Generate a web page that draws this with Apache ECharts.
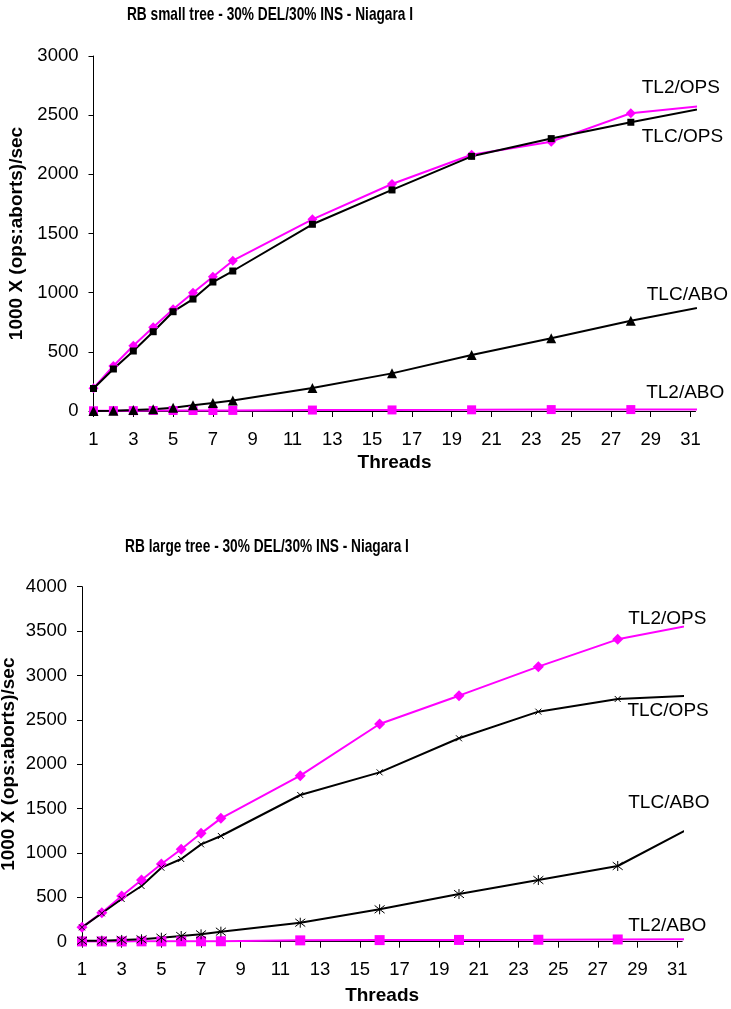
<!DOCTYPE html>
<html><head><meta charset="utf-8">
<script src="https://cdn.jsdelivr.net/npm/echarts@6/dist/echarts.min.js"></script>
<style>html,body{margin:0;padding:0;background:#fff}#c{width:731px;height:1009px}</style>
</head><body><div id="c"></div>
<script>
// ---- data ----
const threads = [1, 2, 3, 4, 5, 6, 7, 8, 12, 16, 20, 24, 28, 32];
const xTickLabels = [1, 3, 5, 7, 9, 11, 13, 15, 17, 19, 21, 23, 25, 27, 29, 31];
const smallTitle = 'RB small tree - 30% DEL/30% INS - Niagara I';
const largeTitle = 'RB large tree - 30% DEL/30% INS - Niagara I';
const yAxisName = '1000 X (ops:aborts)/sec';
const xAxisName = 'Threads';

const smallTL2Ops = [192, 380, 552, 707, 859, 1000, 1135, 1270, 1620, 1918, 2166, 2276, 2516, 2585];
const smallTL2Abo = [2, 3, 3, 4, 4, 4, 4, 5, 8, 9, 10, 12, 12, 14];
const smallTLCOps = [190, 355, 507, 670, 839, 946, 1090, 1183, 1578, 1868, 2152, 2302, 2440, 2570];
const smallTLCAbo = [0, 3, 8, 15, 28, 48, 68, 88, 195, 318, 473, 614, 763, 892];

const largeTL2Ops = [162, 327, 515, 695, 875, 1041, 1221, 1390, 1871, 2453, 2772, 3099, 3407, 3579];
const largeTL2Abo = [3, 3, 3, 4, 4, 4, 5, 5, 15, 18, 20, 22, 25, 27];
const largeTLCOps = [162, 320, 481, 628, 834, 932, 1097, 1191, 1653, 1908, 2292, 2592, 2735, 2775];
const largeTLCAbo = [11, 11, 20, 27, 45, 64, 83, 113, 214, 365, 537, 695, 853, 1322];

// label anchors in data units [x, y] (annotation placement)
const smallLabelAt = { 'TL2/OPS': [28.55, 2732], 'TLC/OPS': [28.55, 2318], 'TLC/ABO': [28.8, 980], 'TL2/ABO': [28.77, 158] };
const largeLabelAt = { 'TL2/OPS': [28.53, 3639], 'TLC/OPS': [28.49, 2603], 'TLC/ABO': [28.53, 1566], 'TL2/ABO': [28.53, 180] };

// ---- styling ----
const FONT = 'Liberation Sans, Arial, Helvetica, sans-serif';
const MAG = '#FF00FF', BLK = '#000000';
const X_MARK = 'path://M0,0L10,10M10,0L0,10';
const STAR_MARK = 'path://M0,0L10,10M10,0L0,10M5,-1.5L5,11.5';

function pairs(ys) { return threads.map((x, i) => [x, ys[i]]); }

function labelMark(name, at) {
  return {
    symbol: 'rect', symbolSize: 0, silent: true, animation: false,
    label: { show: true, position: 'right', distance: 0, formatter: name, color: BLK, fontSize: 19, fontFamily: FONT },
    data: [{ coord: at[name] }]
  };
}

function makeSeries(idx, vals, labelAt, big) {
  const [tl2ops, tl2abo, tlcops, tlcabo] = vals;
  const common = { type: 'line', xAxisIndex: idx, yAxisIndex: idx, clip: true, showSymbol: true, animation: false };
  return [
    Object.assign({}, common, {
      name: 'TL2/OPS', data: pairs(tl2ops), symbol: 'diamond', symbolSize: big ? 11 : 10,
      lineStyle: { color: MAG, width: 2 }, itemStyle: { color: MAG }, markPoint: labelMark('TL2/OPS', labelAt)
    }),
    Object.assign({}, common, {
      name: 'TL2/ABO', data: pairs(tl2abo), symbol: 'rect', symbolSize: big ? 10 : 9,
      lineStyle: { color: MAG, width: 2 }, itemStyle: { color: MAG }, markPoint: labelMark('TL2/ABO', labelAt)
    }),
    Object.assign({}, common, {
      name: 'TLC/OPS', data: pairs(tlcops),
      symbol: big ? X_MARK : 'rect', symbolSize: big ? 6 : 7,
      lineStyle: { color: BLK, width: 2 },
      itemStyle: big ? { color: 'rgba(0,0,0,0)', borderColor: BLK, borderWidth: 1 } : { color: BLK },
      markPoint: labelMark('TLC/OPS', labelAt)
    }),
    Object.assign({}, common, {
      name: 'TLC/ABO', data: pairs(tlcabo),
      symbol: big ? STAR_MARK : 'triangle', symbolSize: 10,
      lineStyle: { color: BLK, width: 2 },
      itemStyle: big ? { color: 'rgba(0,0,0,0)', borderColor: BLK, borderWidth: 1 } : { color: BLK },
      markPoint: labelMark('TLC/ABO', labelAt)
    })
  ];
}

function xAxis(idx, nameGap) {
  return {
    type: 'value', gridIndex: idx, min: 1, max: 31.25, interval: 2,
    name: xAxisName, nameLocation: 'middle', nameGap: nameGap, nameMoveOverlap: false,
    nameTextStyle: { color: BLK, fontSize: 19, fontWeight: 'bold', fontFamily: FONT },
    axisLine: { show: true, onZero: false, lineStyle: { color: BLK, width: 1 } },
    axisTick: { show: true, length: 6, customValues: xTickLabels, lineStyle: { color: BLK, width: 1 } },
    axisLabel: { color: BLK, fontSize: 18.5, fontFamily: FONT, margin: 19, customValues: xTickLabels,
      formatter: v => String(v) },
    splitLine: { show: false }
  };
}
function yAxis(idx, max, nameGap) {
  return {
    type: 'value', gridIndex: idx, min: 0, max: max, interval: 500,
    name: yAxisName, nameLocation: 'middle', nameGap: nameGap, nameRotate: 90, nameMoveOverlap: false,
    nameTextStyle: { color: BLK, fontSize: 19, fontWeight: 'bold', fontFamily: FONT },
    axisLine: { show: true, lineStyle: { color: BLK, width: 1 } },
    axisTick: { show: true, length: 5, lineStyle: { color: BLK, width: 1 } },
    axisLabel: { color: BLK, fontSize: 18.5, fontFamily: FONT, margin: 15, formatter: v => String(v) },
    splitLine: { show: false }
  };
}

function titleText(text, cx, cy) {
  return {
    type: 'text', x: cx, y: cy, scaleX: 0.74, silent: true,
    style: { text: text, fill: BLK, font: 'bold 18.5px ' + FONT, textAlign: 'center', textVerticalAlign: 'middle' }
  };
}

const chart = echarts.init(document.getElementById('c'), null, { renderer: 'canvas' });
chart.setOption({
  animation: false,
  backgroundColor: '#ffffff',
  graphic: [titleText(smallTitle, 270, 15), titleText(largeTitle, 267, 546.7)],
  grid: [
    { left: 93.5, top: 56, width: 602, height: 355, containLabel: false, outerBoundsMode: 'none' },
    { left: 82, top: 586.7, width: 600.2, height: 355, containLabel: false, outerBoundsMode: 'none' }
  ],
  xAxis: [xAxis(0, 42), xAxis(1, 45)],
  yAxis: [yAxis(0, 3000, 67), yAxis(1, 4000, 64)],
  series: [].concat(
    makeSeries(0, [smallTL2Ops, smallTL2Abo, smallTLCOps, smallTLCAbo], smallLabelAt, false),
    makeSeries(1, [largeTL2Ops, largeTL2Abo, largeTLCOps, largeTLCAbo], largeLabelAt, true)
  )
});
</script></body></html>
